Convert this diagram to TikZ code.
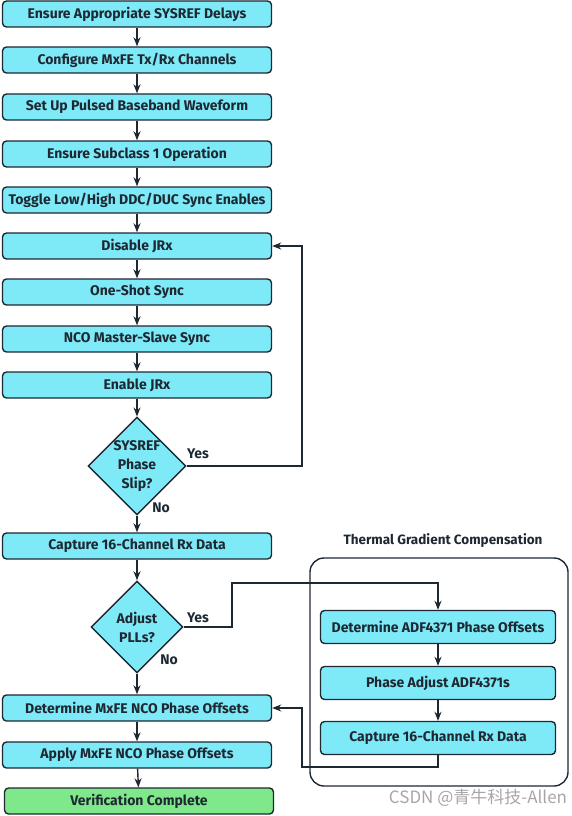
\documentclass[tikz,border=0pt]{standalone}
\usepackage{fontspec}
\setmainfont{Fira Sans}
\newfontfamily\cjk{Noto Sans CJK SC}
\usetikzlibrary{shapes.geometric, arrows.meta}
\definecolor{boxcyan}{RGB}{126,234,248}
\definecolor{boxgreen}{RGB}{126,232,138}
\definecolor{edge}{RGB}{30,40,50}
\begin{document}
\begin{tikzpicture}[>={Stealth[length=9pt, width=7pt]}, x=1pt, y=-1pt, line width=1.4pt, draw=edge,
    box/.style={draw=edge, rounded corners=4, fill=boxcyan, minimum width=269, minimum height=26, inner sep=0, font=\fontsize{14}{16}\bfseries, text=edge},
    rbox/.style={box, minimum width=235, minimum height=33},
    decide/.style={draw=edge, diamond, aspect=1, fill=boxcyan, minimum width=92, minimum height=92, inner sep=0, align=center, font=\fontsize{14}{19}\bfseries, text=edge},
    lbl/.style={font=\fontsize{14}{16}\bfseries, text=edge},
    link/.style={->, draw=edge, line width=1.4pt}]
\useasboundingbox (0,0) rectangle (571,816);
        % main column
        \node(A)[box] at (137,14){Ensure Appropriate SYSREF Delays};
        \node(A1)[box] at (137,60){Configure MxFE Tx/Rx Channels};
        \node(A2)[box] at (137,107){Set Up Pulsed Baseband Waveform};
        \node(A3)[box] at (137,154){Ensure Subclass 1 Operation};
        \node(A4)[box] at (137,200){Toggle Low/High DDC/DUC Sync Enables};
        \node(A5)[box] at (137,246){Disable JRx};
        \node(A6)[box] at (137,292){One-Shot Sync};
        \node(A7)[box] at (137,339){NCO Master-Slave Sync};
        \node(A8)[box] at (137,385){Enable JRx};
        \node(D)[decide] at (137,466){SYSREF\\Phase\\Slip?};
        \node(A9)[box] at (137,546){Capture 16-Channel Rx Data};
        \node(D1)[decide] at (137,627){Adjust\\PLLs?};
        \node(A10)[box] at (137,708){Determine MxFE NCO Phase Offsets};
        \node(A11)[box] at (137,755){Apply MxFE NCO Phase Offsets};
        \node(A12)[box, fill=boxgreen] at (139,801){Verification Complete};
        % thermal gradient compensation
        \node(G)[draw=edge, rounded corners=14, minimum width=258, minimum height=228] at (439,672){};
        \node(T)[lbl, font=\fontsize{13.5}{16}\bfseries] at (443,541){Thermal Gradient Compensation};
        \node(B)[rbox] at (438,627){Determine ADF4371 Phase Offsets};
        \node(B1)[rbox] at (438,683){Phase Adjust ADF4371s};
        \node(B2)[rbox] at (438,738){Capture 16-Channel Rx Data};
        \coordinate(C) at (302,466);
        \coordinate(C1) at (232,583);
        \coordinate(C2) at (302,767);
\draw[link](A)--(A1);
\draw[link](A1)--(A2);
\draw[link](A2)--(A3);
\draw[link](A3)--(A4);
\draw[link](A4)--(A5);
\draw[link](A5)--(A6);
\draw[link](A6)--(A7);
\draw[link](A7)--(A8);
\draw[link](A8)--(D);
\draw[link](D)--(A9);
\draw[link](A9)--(D1);
\draw[link](D1)--(A10);
\draw[link](A10)--(A11);
\draw[link](A11)--(A12);
\draw[link](B)--(B1);
\draw[link](B1)--(B2);
\draw[link](D.east)--(C)|-(A5.east);
\draw[link](D1.east)-|(C1)-|(B.north);
\draw[link](B2.south)|-(C2)|-(A10.east);
        \node(Y)[lbl] at (198,454){Yes};
        \node(N)[lbl] at (161,508){No};
        \node(Y1)[lbl] at (198,618){Yes};
        \node(N1)[lbl] at (169,660){No};
        \node(W)[font=\cjk\fontsize{17}{19}\selectfont, text=black!35] at (478,798){CSDN @青牛科技-Allen};
    \end{tikzpicture}
\end{document}
